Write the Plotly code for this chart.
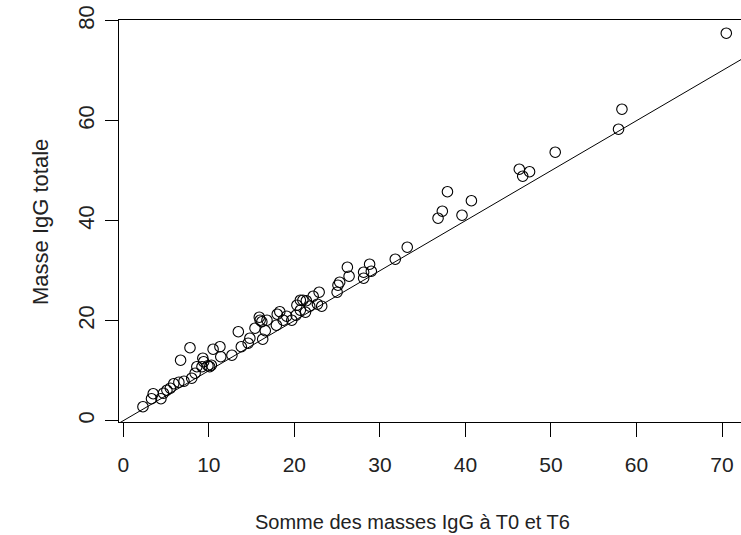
import plotly.graph_objects as go

# Somme des masses IgG a T0 et T6 (x) vs Masse IgG totale (y)
igg_sum = [2.3, 3.3, 3.5, 4.4, 4.7, 5.1, 5.5, 5.9, 6.5, 7.1, 8.0, 8.4, 6.7, 7.8,
           8.6, 9.2, 9.3, 9.4, 9.9, 10.1, 10.3, 10.5, 11.3, 11.4, 12.7, 13.45,
           13.8, 14.6, 14.8, 15.4, 15.9, 16.0, 16.2, 16.3, 16.6, 16.8, 17.9,
           18.0, 18.3, 18.7, 19.1, 19.7, 20.2, 20.3, 20.7, 21.0, 21.4, 20.7,
           21.3, 21.8, 22.2, 22.9, 22.7, 23.2, 25.0, 25.1, 25.3, 26.2, 26.4,
           28.1, 28.1, 28.8, 29.0, 31.8, 33.2, 36.8, 37.3, 37.9, 39.6, 40.7,
           46.3, 46.7, 47.5, 50.5, 57.9, 58.3, 70.5]
igg_total = [2.8, 4.4, 5.4, 4.4, 5.5, 6.1, 6.5, 7.4, 7.7, 7.9, 8.5, 9.5, 12.1, 14.6,
             10.8, 10.8, 12.5, 11.8, 11.0, 10.8, 11.1, 14.3, 14.8, 12.8, 13.1, 17.8,
             14.8, 15.5, 16.5, 18.5, 20.7, 20.1, 19.8, 16.3, 18.0, 20.1, 19.1,
             21.3, 21.8, 20.1, 20.9, 20.1, 21.1, 23.1, 24.1, 24.1, 24.0, 22.1,
             21.7, 22.9, 24.9, 25.7, 23.3, 22.9, 25.7, 27.1, 27.7, 30.7, 28.9,
             29.7, 28.5, 31.3, 29.9, 32.3, 34.7, 40.5, 41.9, 45.8, 41.1, 44.0,
             50.3, 48.9, 49.8, 53.7, 58.3, 62.3, 77.5]

# identity reference line y = x (abline(0, 1))
ref_x = [-5, 100]
ref_y = [-5, 100]

x_ticks = [0, 10, 20, 30, 40, 50, 60, 70]
y_ticks = [0, 20, 40, 60, 80]

x_title = "Somme des masses IgG à T0 et T6"
y_title = "Masse IgG totale"

FONT = "Liberation Sans, Arial, sans-serif"
INK = "#222222"

fig = go.Figure()
fig.add_trace(go.Scatter(x=ref_x, y=ref_y, mode="lines",
                         line=dict(color="black", width=1),
                         hoverinfo="skip", showlegend=False))
fig.add_trace(go.Scatter(x=igg_sum, y=igg_total, mode="markers",
                         marker=dict(symbol="circle-open", size=10.5,
                                     color="black", line=dict(width=1.1)),
                         showlegend=False))

fig.update_layout(
    width=741, height=535,
    margin=dict(l=119, r=0, t=20, b=113),
    paper_bgcolor="white", plot_bgcolor="white",
    font=dict(family=FONT, size=21, color=INK),
    xaxis=dict(range=[-0.5, 72.22], tickvals=x_ticks, ticks="outside",
               ticklen=14, tickwidth=1, tickcolor="black",
               tickfont=dict(size=21),
               showline=True, linecolor="black", linewidth=1, mirror=True,
               showgrid=False, zeroline=False, ticklabelstandoff=10),
    yaxis=dict(range=[-0.26, 80.14], tickvals=y_ticks, ticks="outside",
               ticklen=13, tickwidth=1, tickcolor="black", tickangle=-90,
               tickfont=dict(size=22),
               showline=True, linecolor="black", linewidth=1,
               showgrid=False, zeroline=False, ticklabelstandoff=2),
    annotations=[
        dict(text=x_title, xref="paper", yref="paper",
             x=(412 - 119) / 622, y=(422 - 522) / 402,
             xanchor="center", yanchor="middle", showarrow=False,
             font=dict(size=20, family=FONT, color=INK)),
        dict(text=y_title, xref="paper", yref="paper",
             x=(40 - 119) / 622, y=(422 - 222) / 402, textangle=-90,
             xanchor="center", yanchor="middle", showarrow=False,
             font=dict(size=22, family=FONT, color=INK)),
    ],
)

fig.write_html("out.html")
